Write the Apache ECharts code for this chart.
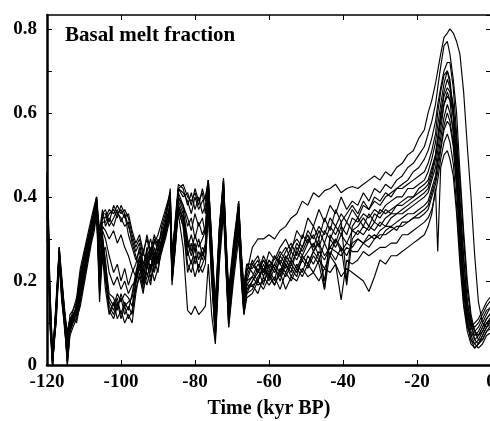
<!DOCTYPE html>
<html>
<head>
<meta charset="utf-8">
<script src="https://cdn.jsdelivr.net/npm/echarts@6/dist/echarts.min.js"></script>
<style>
html,body{margin:0;padding:0;background:#fff;}
#chart{width:490px;height:421px;}
</style>
</head>
<body>
<div id="chart"></div>
<script>
// Time axis (kyr BP), shared by all ensemble members
const timeKyr = [
  -120, -119.6, -119.2, -118.5, -117.5, -116.7, -116, -115.2, -114.5, -113.8, -113, -112, -111, -110, -109, -108, -107.2, -106.6, -105.8, -105,
  -104.2, -103.2, -102, -101, -100, -99, -98, -97, -96, -95, -94, -93, -92, -91, -90, -89, -88,
  -86.7, -86.2, -85.4, -84.5, -83.2, -82, -81, -80, -79, -78, -77.2, -76.4, -75.5, -74.5, -73.4, -72.3, -71.6, -70.9, -69.6, -68.2, -67.5, -66.8, -66,
  -64.5, -63, -61.5, -60, -58.5, -57, -55.5, -54, -52.5, -51, -49.5, -48, -46.5, -45, -43.5, -42, -40.5, -39, -37.5, -36, -34.5, -33, -31.5, -30, -28.5, -27, -25.5, -24, -22.5, -21, -19.5, -18, -17,
  -16, -15, -14.4, -13.6, -12.7, -11.8, -11.1, -10.2, -9.3, -8.4, -7.4, -6.4, -5.4, -4.4, -3.4, -2.3, -1.2, 0.5
];

// Basal melt fraction, ensemble members
const run1 = [
  0.46, 0.34, 0.16, 0.02, 0.12, 0.28, 0.2, 0.11, 0.06, 0.1, 0.12, 0.14, 0.2, 0.25, 0.29, 0.33, 0.37, 0.40, 0.28, 0.34,
  0.34, 0.36, 0.37, 0.35, 0.38, 0.36, 0.33, 0.3, 0.27, 0.29, 0.24, 0.27, 0.3, 0.26, 0.29, 0.31, 0.34,
  0.42, 0.27, 0.33, 0.42, 0.4, 0.41, 0.38, 0.42, 0.39, 0.41, 0.36, 0.44, 0.3, 0.12, 0.32, 0.44, 0.3, 0.15, 0.28, 0.38, 0.27, 0.16, 0.22,
  0.28, 0.3, 0.3, 0.31, 0.3, 0.32, 0.33, 0.35, 0.36, 0.39, 0.38, 0.41, 0.4, 0.415, 0.42, 0.43, 0.41, 0.42, 0.425, 0.42, 0.43, 0.44, 0.45, 0.44, 0.46, 0.45, 0.47, 0.48, 0.5, 0.51, 0.54, 0.56, 0.6,
  0.63, 0.67, 0.7, 0.74, 0.78, 0.79, 0.80, 0.79, 0.77, 0.74, 0.65, 0.52, 0.4, 0.26, 0.15, 0.1, 0.09, 0.11
];
const run2 = [
  0.44, 0.30, 0.12, 0.0, 0.15, 0.26, 0.17, 0.1, 0.0, 0.08, 0.11, 0.12, 0.17, 0.22, 0.27, 0.31, 0.35, 0.38, 0.22, 0.30,
  0.25, 0.15, 0.13, 0.16, 0.12, 0.15, 0.13, 0.17, 0.22, 0.26, 0.21, 0.25, 0.2, 0.24, 0.27, 0.3, 0.33,
  0.38, 0.22, 0.3, 0.4, 0.37, 0.3, 0.27, 0.31, 0.28, 0.3, 0.32, 0.42, 0.26, 0.09, 0.3, 0.43, 0.27, 0.12, 0.25, 0.36, 0.24, 0.14, 0.2,
  0.24, 0.26, 0.22, 0.27, 0.25, 0.28, 0.3, 0.27, 0.32, 0.3, 0.35, 0.33, 0.37, 0.34, 0.38, 0.36, 0.4, 0.37, 0.39, 0.38, 0.41, 0.39, 0.42, 0.41, 0.43, 0.42, 0.44, 0.45, 0.47, 0.48, 0.5, 0.52, 0.55,
  0.58, 0.62, 0.66, 0.71, 0.76, 0.77, 0.74, 0.68, 0.6, 0.46, 0.32, 0.2, 0.12, 0.08, 0.07, 0.09, 0.11, 0.13
];
const run3 = [
  0.40, 0.32, 0.18, 0.03, 0.1, 0.27, 0.19, 0.12, 0.08, 0.11, 0.1, 0.15, 0.22, 0.26, 0.3, 0.34, 0.36, 0.39, 0.3, 0.36,
  0.36, 0.33, 0.35, 0.37, 0.34, 0.36, 0.31, 0.28, 0.25, 0.27, 0.22, 0.28, 0.25, 0.3, 0.27, 0.33, 0.36,
  0.41, 0.25, 0.34, 0.43, 0.42, 0.38, 0.41, 0.37, 0.4, 0.36, 0.38, 0.43, 0.28, 0.14, 0.33, 0.44, 0.28, 0.16, 0.27, 0.39, 0.26, 0.18, 0.24,
  0.22, 0.2, 0.24, 0.21, 0.26, 0.24, 0.27, 0.29, 0.26, 0.31, 0.29, 0.33, 0.3, 0.35, 0.32, 0.37, 0.34, 0.36, 0.38, 0.36, 0.39, 0.37, 0.4, 0.39, 0.41, 0.4, 0.42, 0.43, 0.44, 0.46, 0.47, 0.49, 0.51,
  0.54, 0.58, 0.62, 0.66, 0.7, 0.72, 0.72, 0.66, 0.55, 0.4, 0.26, 0.15, 0.1, 0.06, 0.05, 0.07, 0.09, 0.1
];
const run4 = [
  0.38, 0.28, 0.1, 0.0, 0.13, 0.25, 0.16, 0.08, 0.02, 0.09, 0.12, 0.1, 0.15, 0.2, 0.25, 0.3, 0.33, 0.37, 0.17, 0.28,
  0.2, 0.13, 0.11, 0.14, 0.16, 0.12, 0.14, 0.12, 0.19, 0.24, 0.19, 0.23, 0.26, 0.22, 0.26, 0.28, 0.31,
  0.36, 0.2, 0.28, 0.38, 0.34, 0.26, 0.29, 0.24, 0.27, 0.25, 0.28, 0.39, 0.22, 0.07, 0.27, 0.4, 0.24, 0.1, 0.23, 0.34, 0.23, 0.13, 0.18,
  0.2, 0.23, 0.19, 0.24, 0.22, 0.25, 0.23, 0.27, 0.25, 0.28, 0.31, 0.27, 0.3, 0.18, 0.31, 0.29, 0.33, 0.31, 0.35, 0.34, 0.36, 0.35, 0.37, 0.36, 0.38, 0.39, 0.4, 0.4, 0.42, 0.42, 0.43, 0.44, 0.46,
  0.49, 0.53, 0.57, 0.62, 0.67, 0.7, 0.68, 0.6, 0.5, 0.36, 0.22, 0.13, 0.09, 0.07, 0.08, 0.1, 0.12, 0.15
];
const run5 = [
  0.35, 0.31, 0.14, 0.01, 0.16, 0.28, 0.21, 0.12, 0.05, 0.12, 0.13, 0.16, 0.23, 0.27, 0.31, 0.35, 0.38, 0.40, 0.32, 0.37,
  0.33, 0.35, 0.33, 0.36, 0.35, 0.33, 0.34, 0.29, 0.26, 0.23, 0.27, 0.24, 0.28, 0.25, 0.3, 0.28, 0.33,
  0.39, 0.24, 0.31, 0.41, 0.38, 0.35, 0.32, 0.36, 0.33, 0.35, 0.31, 0.43, 0.27, 0.11, 0.31, 0.42, 0.29, 0.14, 0.26, 0.37, 0.25, 0.15, 0.21,
  0.25, 0.22, 0.25, 0.23, 0.2, 0.26, 0.24, 0.22, 0.28, 0.26, 0.29, 0.31, 0.28, 0.32, 0.3, 0.33, 0.31, 0.34, 0.32, 0.33, 0.35, 0.33, 0.36, 0.35, 0.37, 0.36, 0.38, 0.39, 0.4, 0.4, 0.42, 0.43, 0.44,
  0.47, 0.5, 0.54, 0.6, 0.65, 0.68, 0.66, 0.62, 0.52, 0.38, 0.25, 0.15, 0.1, 0.08, 0.06, 0.06, 0.08, 0.1
];
const run6 = [
  0.32, 0.26, 0.09, 0.0, 0.11, 0.24, 0.15, 0.09, 0.0, 0.07, 0.09, 0.11, 0.14, 0.19, 0.24, 0.29, 0.32, 0.36, 0.15, 0.26,
  0.18, 0.12, 0.15, 0.11, 0.13, 0.1, 0.12, 0.1, 0.17, 0.22, 0.18, 0.21, 0.24, 0.2, 0.23, 0.27, 0.3,
  0.35, 0.19, 0.27, 0.37, 0.33, 0.24, 0.22, 0.26, 0.23, 0.27, 0.25, 0.37, 0.21, 0.06, 0.26, 0.38, 0.23, 0.09, 0.22, 0.32, 0.22, 0.12, 0.17,
  0.18, 0.21, 0.23, 0.2, 0.23, 0.21, 0.25, 0.23, 0.21, 0.26, 0.24, 0.27, 0.25, 0.29, 0.26, 0.3, 0.28, 0.19, 0.3, 0.32, 0.31, 0.33, 0.32, 0.34, 0.33, 0.35, 0.36, 0.36, 0.37, 0.38, 0.39, 0.4, 0.41,
  0.44, 0.47, 0.51, 0.56, 0.62, 0.65, 0.63, 0.55, 0.44, 0.3, 0.18, 0.11, 0.07, 0.05, 0.04, 0.05, 0.07, 0.08
];
const run7 = [
  0.42, 0.33, 0.15, 0.02, 0.14, 0.27, 0.18, 0.11, 0.04, 0.1, 0.12, 0.13, 0.19, 0.24, 0.28, 0.32, 0.36, 0.39, 0.26, 0.33,
  0.32, 0.3, 0.32, 0.29, 0.31, 0.28, 0.26, 0.23, 0.21, 0.25, 0.2, 0.26, 0.23, 0.27, 0.24, 0.29, 0.32,
  0.37, 0.23, 0.29, 0.39, 0.36, 0.28, 0.31, 0.27, 0.3, 0.26, 0.29, 0.4, 0.24, 0.1, 0.29, 0.41, 0.26, 0.13, 0.24, 0.35, 0.23, 0.14, 0.19,
  0.21, 0.19, 0.2, 0.22, 0.19, 0.23, 0.21, 0.24, 0.22, 0.25, 0.23, 0.26, 0.24, 0.18, 0.27, 0.25, 0.28, 0.26, 0.29, 0.3, 0.29, 0.31, 0.3, 0.32, 0.33, 0.33, 0.34, 0.35, 0.36, 0.36, 0.37, 0.38, 0.39,
  0.42, 0.45, 0.49, 0.54, 0.59, 0.62, 0.6, 0.56, 0.47, 0.34, 0.21, 0.13, 0.1, 0.09, 0.1, 0.12, 0.14, 0.16
];
const run8 = [
  0.3, 0.27, 0.11, 0.0, 0.12, 0.26, 0.2, 0.13, 0.07, 0.11, 0.1, 0.14, 0.21, 0.26, 0.3, 0.33, 0.37, 0.39, 0.29, 0.35,
  0.35, 0.37, 0.36, 0.38, 0.36, 0.37, 0.35, 0.31, 0.28, 0.3, 0.26, 0.31, 0.27, 0.31, 0.28, 0.32, 0.35,
  0.4, 0.26, 0.32, 0.42, 0.41, 0.39, 0.36, 0.4, 0.37, 0.39, 0.4, 0.44, 0.29, 0.13, 0.32, 0.43, 0.29, 0.17, 0.28, 0.38, 0.26, 0.17, 0.23,
  0.23, 0.25, 0.21, 0.25, 0.23, 0.2, 0.24, 0.21, 0.24, 0.22, 0.26, 0.24, 0.27, 0.25, 0.28, 0.27, 0.26, 0.28, 0.27, 0.27, 0.29, 0.28, 0.3, 0.31, 0.31, 0.32, 0.33, 0.33, 0.34, 0.35, 0.35, 0.36, 0.37,
  0.4, 0.43, 0.46, 0.51, 0.56, 0.58, 0.57, 0.52, 0.42, 0.29, 0.17, 0.1, 0.06, 0.05, 0.06, 0.08, 0.1, 0.12
];
const run9 = [
  0.36, 0.29, 0.13, 0.01, 0.13, 0.25, 0.16, 0.1, 0.01, 0.08, 0.1, 0.11, 0.16, 0.21, 0.26, 0.3, 0.34, 0.37, 0.19, 0.29,
  0.22, 0.16, 0.14, 0.17, 0.15, 0.17, 0.16, 0.14, 0.2, 0.23, 0.2, 0.22, 0.19, 0.25, 0.22, 0.29, 0.32,
  0.36, 0.21, 0.28, 0.38, 0.35, 0.27, 0.24, 0.28, 0.22, 0.24, 0.26, 0.38, 0.23, 0.08, 0.28, 0.39, 0.25, 0.11, 0.23, 0.33, 0.21, 0.13, 0.18,
  0.19, 0.17, 0.21, 0.19, 0.21, 0.18, 0.22, 0.2, 0.23, 0.21, 0.24, 0.22, 0.25, 0.23, 0.26, 0.24, 0.155, 0.25, 0.24, 0.25, 0.27, 0.26, 0.27, 0.28, 0.28, 0.29, 0.29, 0.31, 0.31, 0.32, 0.33, 0.34, 0.35,
  0.37, 0.41, 0.44, 0.49, 0.53, 0.55, 0.53, 0.48, 0.38, 0.26, 0.15, 0.09, 0.07, 0.08, 0.09, 0.11, 0.13, 0.14
];
const run10 = [
  0.45, 0.35, 0.17, 0.03, 0.14, 0.27, 0.19, 0.1, 0.03, 0.1, 0.11, 0.13, 0.18, 0.23, 0.27, 0.31, 0.35, 0.38, 0.24, 0.31,
  0.24, 0.17, 0.16, 0.13, 0.17, 0.14, 0.15, 0.16, 0.21, 0.25, 0.22, 0.19, 0.23, 0.26, 0.25, 0.3, 0.34,
  0.37, 0.22, 0.3, 0.36, 0.28, 0.13, 0.12, 0.14, 0.12, 0.13, 0.14, 0.24, 0.12, 0.05, 0.24, 0.36, 0.22, 0.09, 0.2, 0.3, 0.2, 0.12, 0.16,
  0.17, 0.2, 0.18, 0.21, 0.19, 0.22, 0.18, 0.21, 0.2, 0.23, 0.21, 0.22, 0.2, 0.23, 0.22, 0.24, 0.21, 0.23, 0.22, 0.21, 0.2, 0.175, 0.21, 0.25, 0.24, 0.26, 0.26, 0.27, 0.28, 0.29, 0.3, 0.31, 0.33,
  0.36, 0.42, 0.27, 0.47, 0.5, 0.51, 0.49, 0.45, 0.36, 0.24, 0.14, 0.08, 0.05, 0.04, 0.05, 0.07, 0.09, 0.12
];
const run11 = [
  0.41, 0.31, 0.14, 0.0, 0.13, 0.26, 0.18, 0.1, 0.03, 0.09, 0.11, 0.13, 0.19, 0.23, 0.28, 0.32, 0.35, 0.38, 0.2, 0.32,
  0.3, 0.26, 0.22, 0.24, 0.2, 0.23, 0.19, 0.22, 0.24, 0.28, 0.23, 0.27, 0.22, 0.28, 0.25, 0.3, 0.33,
  0.38, 0.23, 0.31, 0.4, 0.38, 0.33, 0.35, 0.3, 0.34, 0.31, 0.33, 0.42, 0.25, 0.1, 0.3, 0.42, 0.26, 0.14, 0.25, 0.36, 0.24, 0.15, 0.2,
  0.21, 0.24, 0.22, 0.25, 0.23, 0.26, 0.28, 0.25, 0.29, 0.27, 0.3, 0.28, 0.32, 0.29, 0.33, 0.31, 0.34, 0.2, 0.33, 0.35, 0.33, 0.36, 0.34, 0.37, 0.36, 0.37, 0.38, 0.38, 0.39, 0.4, 0.41, 0.42, 0.43,
  0.46, 0.5, 0.54, 0.59, 0.64, 0.66, 0.65, 0.59, 0.47, 0.33, 0.2, 0.12, 0.08, 0.06, 0.07, 0.08, 0.1, 0.11
];
const run12 = [
  0.37, 0.29, 0.12, 0.01, 0.15, 0.27, 0.2, 0.12, 0.04, 0.11, 0.12, 0.12, 0.18, 0.24, 0.28, 0.32, 0.36, 0.39, 0.23, 0.3,
  0.21, 0.14, 0.12, 0.15, 0.11, 0.14, 0.11, 0.13, 0.18, 0.21, 0.17, 0.24, 0.21, 0.23, 0.26, 0.28, 0.32,
  0.36, 0.2, 0.27, 0.37, 0.33, 0.22, 0.25, 0.21, 0.24, 0.22, 0.24, 0.36, 0.2, 0.07, 0.26, 0.39, 0.23, 0.11, 0.22, 0.33, 0.22, 0.13, 0.17,
  0.2, 0.22, 0.25, 0.22, 0.24, 0.27, 0.25, 0.28, 0.3, 0.28, 0.32, 0.3, 0.33, 0.31, 0.35, 0.33, 0.36, 0.34, 0.37, 0.35, 0.38, 0.37, 0.39, 0.38, 0.4, 0.41, 0.42, 0.42, 0.43, 0.44, 0.45, 0.46, 0.48,
  0.51, 0.55, 0.6, 0.65, 0.69, 0.7, 0.67, 0.6, 0.46, 0.31, 0.18, 0.1, 0.06, 0.04, 0.05, 0.06, 0.08, 0.09
];
const run13 = [
  0.43, 0.32, 0.13, 0.02, 0.13, 0.28, 0.19, 0.11, 0.02, 0.1, 0.13, 0.15, 0.21, 0.25, 0.29, 0.34, 0.37, 0.4, 0.3, 0.36,
  0.37, 0.34, 0.38, 0.36, 0.37, 0.35, 0.36, 0.32, 0.29, 0.31, 0.27, 0.3, 0.26, 0.29, 0.31, 0.34, 0.37,
  0.41, 0.26, 0.33, 0.42, 0.43, 0.4, 0.39, 0.41, 0.38, 0.42, 0.39, 0.44, 0.3, 0.15, 0.33, 0.445, 0.3, 0.18, 0.29, 0.39, 0.27, 0.19, 0.24,
  0.24, 0.22, 0.26, 0.23, 0.26, 0.24, 0.22, 0.25, 0.23, 0.26, 0.24, 0.27, 0.29, 0.26, 0.28, 0.3, 0.27, 0.29, 0.28, 0.3, 0.29, 0.3, 0.31, 0.3, 0.32, 0.33, 0.32, 0.34, 0.34, 0.35, 0.36, 0.37, 0.38,
  0.41, 0.44, 0.48, 0.52, 0.57, 0.6, 0.58, 0.53, 0.43, 0.3, 0.19, 0.12, 0.09, 0.1, 0.11, 0.13, 0.15, 0.17
];
const run14 = [
  0.33, 0.3, 0.15, 0.0, 0.12, 0.25, 0.17, 0.09, 0.01, 0.08, 0.1, 0.12, 0.16, 0.21, 0.26, 0.3, 0.34, 0.38, 0.18, 0.27,
  0.28, 0.22, 0.19, 0.21, 0.18, 0.2, 0.17, 0.19, 0.2, 0.24, 0.19, 0.23, 0.27, 0.24, 0.28, 0.27, 0.31,
  0.37, 0.21, 0.29, 0.38, 0.35, 0.29, 0.26, 0.29, 0.25, 0.28, 0.27, 0.39, 0.23, 0.08, 0.27, 0.4, 0.25, 0.12, 0.24, 0.35, 0.23, 0.14, 0.19,
  0.19, 0.2, 0.23, 0.21, 0.24, 0.22, 0.26, 0.24, 0.27, 0.25, 0.27, 0.29, 0.26, 0.2, 0.3, 0.28, 0.31, 0.29, 0.32, 0.31, 0.33, 0.32, 0.34, 0.33, 0.35, 0.36, 0.36, 0.37, 0.38, 0.39, 0.4, 0.41, 0.42,
  0.45, 0.49, 0.53, 0.58, 0.62, 0.64, 0.63, 0.6, 0.54, 0.44, 0.3, 0.18, 0.11, 0.08, 0.07, 0.09, 0.11, 0.13
];

const runs = [run1, run2, run3, run4, run5, run6, run7, run8, run9, run10, run11, run12, run13, run14];
const xTicks = [-120, -100, -80, -60, -40, -20, 0];
const yTickLabels = [0, 0.2, 0.4, 0.6, 0.8];

runs.forEach((r, k) => {
  if (r.length !== timeKyr.length) console.error('run' + (k + 1) + ' length ' + r.length + ' vs ' + timeKyr.length);
});

const FONT = '"Liberation Serif", "Times New Roman", serif';
const chart = echarts.init(document.getElementById('chart'), null, { renderer: 'canvas' });

const seriesList = runs.map((r, k) => ({
  name: 'run' + (k + 1),
  type: 'line',
  data: timeKyr.map((t, i) => [t, r[i]]),
  showSymbol: false,
  symbol: 'none',
  lineStyle: { color: '#000', width: 1.15 },
  emphasis: { disabled: true },
  clip: true,
  animation: false,
  z: 2
}));

const option = {
  backgroundColor: '#fff',
  animation: false,
  grid: { left: 47, width: 444, top: 15, height: 350, containLabel: false, outerBoundsMode: 'none' },
  title: {
    text: 'Basal melt fraction',
    left: 65,
    top: 25,
    padding: 0,
    textStyle: { fontFamily: FONT, fontWeight: 'bold', fontSize: 21, color: '#000' }
  },
  xAxis: [
    {
      type: 'value', position: 'bottom', min: -120, max: 0, interval: 20,
      axisLine: { show: true, onZero: false, lineStyle: { color: '#000', width: 2.5 } },
      axisTick: { show: true, inside: true, length: 5, lineStyle: { color: '#000', width: 1 } },
      splitLine: { show: false },
      axisLabel: {
        show: true, margin: 8, color: '#000', fontFamily: FONT, fontWeight: 'bold', fontSize: 19,
        hideOverlap: false,
        formatter: v => (xTicks.indexOf(Math.round(v)) >= 0 ? String(Math.round(v)) : '')
      },
      name: 'Time (kyr BP)', nameLocation: 'middle', nameGap: 34,
      nameTextStyle: { fontFamily: FONT, fontWeight: 'bold', fontSize: 20, color: '#000' }
    },
    {
      type: 'value', position: 'top', min: -120, max: 0, interval: 20,
      axisLine: { show: true, onZero: false, lineStyle: { color: '#000', width: 1.5 } },
      axisTick: { show: true, inside: true, length: 5, lineStyle: { color: '#000', width: 1 } },
      splitLine: { show: false },
      axisLabel: { show: false }
    }
  ],
  yAxis: [
    {
      type: 'value', position: 'left', min: 0, max: 0.833, interval: 0.1,
      axisLine: { show: true, onZero: false, lineStyle: { color: '#000', width: 2.5 } },
      axisTick: { show: true, inside: true, length: 5, lineStyle: { color: '#000', width: 1 } },
      splitLine: { show: false },
      axisLabel: {
        show: true, margin: 10, color: '#000', fontFamily: FONT, fontWeight: 'bold', fontSize: 19,
        showMaxLabel: false,
        formatter: v => {
          for (const t of yTickLabels) { if (Math.abs(v - t) < 1e-6) return String(t); }
          return '';
        }
      }
    },
    {
      type: 'value', position: 'right', min: 0, max: 0.833, interval: 0.1,
      axisLine: { show: false, onZero: false },
      axisTick: { show: true, inside: true, length: 5, lineStyle: { color: '#000', width: 1 } },
      splitLine: { show: false },
      axisLabel: { show: false }
    }
  ],
  series: seriesList
};

chart.setOption(option);
</script>
</body>
</html>
